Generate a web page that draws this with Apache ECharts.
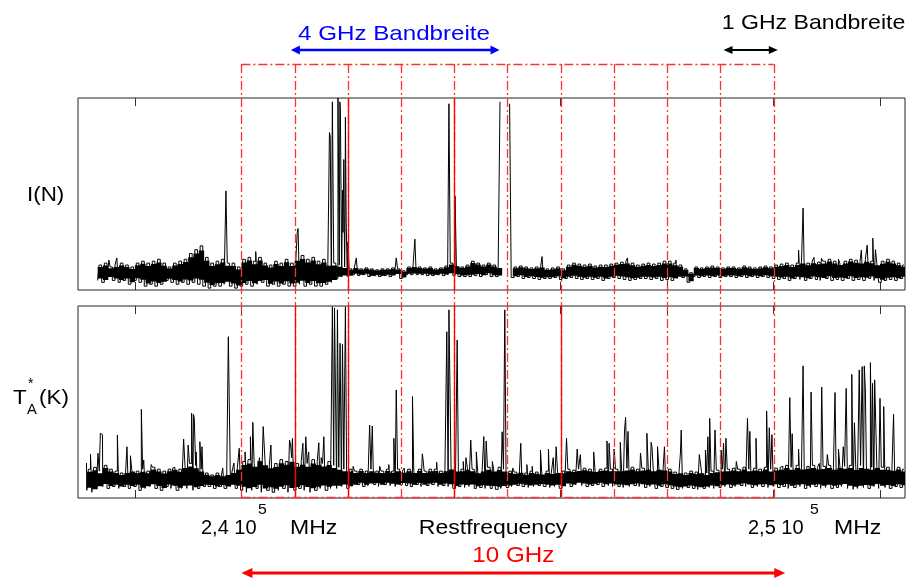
<!DOCTYPE html>
<html>
<head>
<meta charset="utf-8">
<script src="https://cdn.jsdelivr.net/npm/echarts@6/dist/echarts.min.js"></script>
<style>
  html, body { margin: 0; padding: 0; background: #fff; }
  #chart { width: 910px; height: 578px; }
</style>
</head>
<body>
<div id="chart"></div>
<script>
// Frequency axis in GHz (rest frequency)
const X_MIN = 236.93, X_MAX = 252.47;
const binWidth = 0.1;                 // spectra are stored as noise envelopes per 0.1 GHz bin
const tickFreqs = [238, 240, 242, 244, 246, 248, 250, 252];
const channelEdges = [240, 241, 242, 243, 244, 245, 246, 247, 248, 249, 250];
const solidEdgesUpper = [242, 244];
const solidEdgesLower = [241, 242, 244, 246];
const wideBand = [240.93, 244.85];    // 4 GHz Bandbreite
const narrowBand = [249.06, 250.08];  // 1 GHz Bandbreite
const totalSpan = [240.0, 250.22];    // 10 GHz

// Upper panel: I(N)
const intensityStart = 237.3;
const intensityHi = [13,14,12,13,14,13,12,14,15,14,15,16,14, 12,
  14,15,16,19,21,23,17,14,15,16,14,14,12,
  16,17,15,17,14,13,15,14,16,14,17,
  18,16,17,15,16,14,14,13,
  12,11,12,11,11.5,11,10.5,11,11,11.5,11,10,
  12,12.5,12,11.5,12,11,11.5,12.5,14,13,12,13,15,14,13,14,13,12,
  null,null,
  12,12.5,12,11.5,12,12.5,11,11.5,12,11,
  13,14,13.5,13,13.5,12.5,13,13,13.5,14,14.5,15,14,13,13.5,14,13.5,14,15,15,14,13,11,
  9,
  12,11.5,12,12.5,12,11.5,12,12,11.5,12.5,12,11.5,12,12.5,12,
  13,13.5,14,13,14,15,14,15,14.5,15,16,15,14,15,16,15.5,15,16,15,14,15,16,15,14,13];
const intensityLo = [5,4,6,5,4,5,3,5,4,2,3,2,3, 5,
  4,3,4,3,4,3,2,1,2,2,3,2,1,
  2,3,2,3,4,2,3,2,3,2,2,
  3,2,3,2,2,3,4,6,
  7,7,8,7.5,8,7,7.5,7,7.5,7,8,6,
  8,8,8,8,7.5,7.5,8,7.5,8,7.5,7,7,7,7.5,7,8,7,7,
  null,null,
  6.5,7,6,6.5,6,5.5,6,6,6.5,5.5,
  6,6.5,6,5.5,6,5.5,6,5,6,6.5,6,5.5,5,5.5,6,6,5.5,6,5,5.5,5,6,6.5,
  4,
  7,6.5,7,6.5,7,6.5,7,7,6.5,7,6.5,7,6.5,7,6.5,
  6,5.5,6,5,6,5.5,5,6,5.5,5,6,5,5.5,5,6,5,5.5,5,6,5,4,5,5.5,5,6];
const intensityLines = [
  [237.52, 15.6], [237.67, 16.7], [239.72, 51.6], [240.29, 20], [241.05, 30], [241.08, 32],
  [241.66, 82], [241.68, 80], [241.72, 98], [241.83, 100], [241.85, 98], [241.87, 95],
  [241.90, 52], [241.92, 30], [241.93, 68], [241.95, 40], [241.96, 90], [241.98, 35],
  [242.00, 25], [242.17, 16.7], [242.92, 16.7], [243.27, 26.5], [243.90, 97], [244.03, 49],
  [244.87, 98], [245.04, 97], [245.65, 17.4], [247.26, 16.7], [248.18, 15.6],
  [250.49, 20.8], [250.56, 42.7], [250.77, 17], [250.90, 16.5], [251.24, 16],
  [251.65, 20.8], [251.77, 23.4], [251.88, 27], [251.93, 21]
];

// Lower panel: T_A*(K)
const tempStart = 237.1;
const tempHi = [15,16,14,17,15,14,13,14,15,14,
  15,14,16,15,14,15,16,15,17,18,
  17,15,13,12,13,12,13,14,16,
  19,20,18,21,19,17,18,20,19,21,18,
  19,18,20,19,18,19,17,
  16,15,15,
  14,15,14,15,14,14,15,14,15,14,
  15,14,15,14,15,15,14,15,16,15,
  15,16,15,14,15,16,
  15,16,15,14,
  13.5,14,13,14,13.5,13,14,13.5,14,14,
  15,14.5,15,15.5,15,14.5,15,15.5,15,15,
  15,15.5,16,15,15.5,16,15,16,15.5,15,
  13.5,14,13,14,13.5,14,13,14,14.5,15,
  15,15.5,15,16,15,15.5,15,16,15,15.5,
  16,17,16,17,16,16.5,17,16,16.5,17,
  16,17,16.5,17,16,17,16.5,16,17,16,
  16,15.5,16,15];
const tempLo = [4,3,5,6,5,6,5,6,5,6,
  4,5,6,5,4,6,5,4,5,5,
  4,5,6,6,5,6,5,6,5,
  4,3,4,5,3,4,3,4,5,3,4,
  5,4,3,4,5,4,5,
  5,6,5,
  6,7,6,6.5,7,6,7,6.5,6,7,
  6.5,6,7,6,6.5,7,6,6.5,6,5,
  6,5.5,6,5,5.5,5,
  5,4.5,5,5.5,
  6,6.5,6,5.5,6,6.5,6,5.5,6,5,
  6.5,6,7,6.5,6,6.5,7,6,6.5,6,
  6,5.5,6,6.5,6,5.5,6,5,6,5.5,
  5,4.5,5,5.5,5,4.5,5,5.5,5,5.5,
  6,5.5,6,6.5,6,5.5,6,6,5.5,6,
  5.5,6,5,5.5,6,5,5.5,6,5,5.5,
  5,5.5,6,5,4.5,5,5.5,5,6,5,
  5.5,5,6,5.5];
const tempLines = [
  [237.09, 18.2], [237.18, 22.8], [237.31, 23.3], [237.35, 33.7], [237.39, 33], [237.69, 32.8],
  [237.85, 26.7], [237.93, 22], [238.14, 46.2], [238.18, 19.8], [238.31, 17.4], [238.72, 15.6],
  [238.90, 20.6], [238.93, 30.7], [239.00, 27.6], [239.08, 44.1], [239.10, 43.5], [239.13, 41.5],
  [239.15, 24], [239.24, 29.3], [239.27, 26.7], [239.65, 15.6], [239.76, 84], [239.79, 83.2],
  [239.87, 18.2], [239.97, 25.9], [240.09, 24], [240.19, 31.9], [240.23, 39.4], [240.33, 15.6],
  [240.42, 37.2], [240.44, 36.8], [240.56, 27.6], [240.69, 18], [240.91, 30.2], [240.94, 27.6],
  [240.97, 31], [241.16, 28.5], [241.22, 31.9], [241.28, 24], [241.46, 28.8], [241.50, 21],
  [241.55, 31.9], [241.72, 99.6], [241.75, 99], [241.78, 98], [241.81, 98], [241.86, 80.6],
  [241.90, 80], [241.96, 99.6], [242.10, 16.5], [242.42, 38], [242.47, 37.5], [242.60, 16.5],
  [242.79, 17.4], [242.88, 31.1], [242.92, 56.3], [243.07, 15.6], [243.23, 52.8], [243.40, 23],
  [243.42, 21], [243.69, 18.6], [243.87, 86.6], [243.90, 98], [243.93, 98], [244.06, 82.3],
  [244.19, 19], [244.24, 21], [244.32, 30.2], [244.43, 24], [244.56, 32], [244.60, 29.7],
  [244.73, 19], [244.90, 34.5], [244.95, 98], [245.10, 15.6], [245.25, 28.5], [245.38, 17.4],
  [245.48, 16.5], [245.64, 25], [245.79, 25.5], [245.87, 21], [245.93, 26.7], [246.12, 31.1],
  [246.32, 25.5], [246.39, 22.6], [246.64, 24], [246.89, 29.7], [246.92, 28.5], [247.01, 25.5],
  [247.14, 29], [247.20, 35.4], [247.24, 42], [247.28, 34.7], [247.50, 23.4], [247.64, 33.7],
  [247.70, 29], [247.73, 26.7], [247.84, 26.7], [247.95, 26.7], [248.25, 23.4], [248.28, 35.4],
  [248.61, 22.6], [248.64, 22], [248.74, 25], [248.78, 31.9], [248.80, 41.5], [248.90, 35.4],
  [249.03, 25], [249.07, 28.5], [249.11, 31.1], [249.30, 19], [249.52, 41.5], [249.56, 34.7],
  [249.69, 31.1], [249.89, 45.3], [249.94, 36.6], [249.99, 33], [250.15, 16.5], [250.31, 52.3],
  [250.35, 33.5], [250.49, 25.5], [250.56, 68.8], [250.68, 17.4], [250.71, 55.2], [250.87, 18],
  [250.91, 57.8], [251.02, 22.6], [251.16, 54.9], [251.24, 25.5], [251.32, 26.7], [251.38, 57.1],
  [251.49, 64.4], [251.54, 39.2], [251.62, 66.7], [251.68, 68.4], [251.71, 68.8], [251.74, 56.3],
  [251.84, 70.5], [251.87, 59.7], [251.90, 61.5], [251.93, 60.6], [252.00, 51.9], [252.09, 47.6],
  [252.26, 43.6]
];

const FONT = '"Liberation Sans", Arial, sans-serif';

// Spectrum trace split into contiguous pieces at empty bins. Each bin contributes
// its lower envelope, then its upper one half a bin later; line peaks are merged in
// by frequency (a peak inside an empty bin joins the following piece).
function spectrumPieces(start, lo, hi, lines) {
  const pieces = [];
  let cur = null;
  lo.forEach((l, i) => {
    const f = +(start + i * binWidth).toFixed(3);
    if (l == null) { cur = null; return; }
    if (!cur) { cur = { from: i, to: i, pts: [] }; pieces.push(cur); }
    cur.to = i;
    cur.pts.push([f, l]);
    cur.pts.push([+(f + binWidth / 2).toFixed(3), hi[i]]);
  });
  lines.forEach(p => {
    const b = Math.floor((p[0] - start) / binWidth + 1e-6);
    const piece = pieces.find(pc => b <= pc.to) || pieces[pieces.length - 1];
    piece.pts.push([p[0], p[1]]);
  });
  return pieces.map(pc => pc.pts.sort((a, b) => a[0] - b[0]));
}

// Dark body of the noise band, drawn as a histogram of the per-bin envelope
const CORE_TRIM = 0.12;
function ribbonSeries(start, lo, hi, xIdx, yIdx) {
  return {
    type: 'custom', xAxisIndex: xIdx, yAxisIndex: yIdx, clip: true, silent: true, z: 2,
    data: [[start, 0]],
    renderItem(params, api) {
      const children = [];
      let seg = [];
      const flush = () => {
        if (seg.length) {
          const top = [], bot = [];
          seg.forEach(s => {
            const t = s[2] - (s[2] - s[1]) * CORE_TRIM, b = s[1] + (s[2] - s[1]) * CORE_TRIM;
            top.push(api.coord([s[0], t]), api.coord([s[0] + binWidth, t]));
            bot.push(api.coord([s[0], b]), api.coord([s[0] + binWidth, b]));
          });
          children.push({ type: 'polygon', shape: { points: top.concat(bot.reverse()) }, style: { fill: '#000' } });
        }
        seg = [];
      };
      lo.forEach((l, i) => {
        if (l == null) flush();
        else seg.push([start + i * binWidth, l, hi[i]]);
      });
      flush();
      return { type: 'group', children };
    }
  };
}

function traceSeries(points, xIdx, yIdx) {
  return {
    type: 'line', xAxisIndex: xIdx, yAxisIndex: yIdx, data: points, step: 'middle',
    showSymbol: false, symbol: 'none', silent: true, animation: false, z: 3, clip: true,
    lineStyle: { color: '#000', width: 1 }
  };
}

function freqAxis(gridIndex, position) {
  return {
    type: 'value', gridIndex, position, min: X_MIN, max: X_MAX,
    axisLine: { show: false },
    axisLabel: { show: false },
    splitLine: { show: false },
    axisTick: { show: true, inside: true, length: 8, customValues: tickFreqs,
                lineStyle: { color: '#333', width: 1 } }
  };
}

function hiddenY(gridIndex) {
  return { type: 'value', gridIndex, min: 0, max: 100, show: false, splitLine: { show: false } };
}

const series = [ribbonSeries(intensityStart, intensityLo, intensityHi, 0, 0)];
spectrumPieces(intensityStart, intensityLo, intensityHi, intensityLines)
  .forEach(pc => series.push(traceSeries(pc, 0, 0)));
series.push(ribbonSeries(tempStart, tempLo, tempHi, 2, 1));
spectrumPieces(tempStart, tempLo, tempHi, tempLines)
  .forEach(pc => series.push(traceSeries(pc, 2, 1)));

const chart = echarts.init(document.getElementById('chart'));
chart.setOption({
  animation: false,
  backgroundColor: '#fff',
  grid: [
    { left: 78, top: 98, width: 827, height: 192, show: true, borderColor: '#222', borderWidth: 1 },
    { left: 78, top: 306, width: 827, height: 192, show: true, borderColor: '#222', borderWidth: 1 }
  ],
  xAxis: [freqAxis(0, 'bottom'), freqAxis(0, 'top'), freqAxis(1, 'bottom'), freqAxis(1, 'top')],
  yAxis: [hiddenY(0), hiddenY(1)],
  series
});

// ---- annotations ----
const xOf = f => chart.convertToPixel({ xAxisIndex: 0 }, f);
const FRAME_TOP = 64, FRAME_BOTTOM = 497;
const RED_DASH = '#ff3030';
const dash = [9, 3, 2, 3];

function text(str, x, y, o = {}) {
  return {
    type: 'text', x, y, scaleX: o.sx || 1.12, z: 100, silent: true,
    style: { text: str, font: `${o.size || 20}px ${FONT}`, fill: o.color || '#000',
             align: o.align || 'left', verticalAlign: 'middle' }
  };
}

function arrow(x1, x2, y, color, w, hl, hw) {
  return [
    { type: 'line', z: 100, shape: { x1: x1 + hl * 0.7, y1: y, x2: x2 - hl * 0.7, y2: y },
      style: { stroke: color, lineWidth: w } },
    { type: 'polygon', z: 100, shape: { points: [[x1, y], [x1 + hl, y - hw], [x1 + hl, y + hw]] },
      style: { fill: color } },
    { type: 'polygon', z: 100, shape: { points: [[x2, y], [x2 - hl, y - hw], [x2 - hl, y + hw]] },
      style: { fill: color } }
  ];
}

const g = [];
// channel frame
const xl = xOf(channelEdges[0]), xr = xOf(channelEdges[channelEdges.length - 1]);
[FRAME_TOP, FRAME_BOTTOM].forEach(y => g.push({
  type: 'line', z: 50, shape: { x1: xl, y1: y + 0.5, x2: xr, y2: y + 0.5 },
  style: { stroke: RED_DASH, lineWidth: 1.3, lineDash: dash }
}));
channelEdges.forEach(f => {
  const x = Math.round(xOf(f)) + 0.5;
  g.push({ type: 'line', z: 50, shape: { x1: x, y1: FRAME_TOP, x2: x, y2: FRAME_BOTTOM },
           style: { stroke: RED_DASH, lineWidth: 1.3, lineDash: dash } });
});
solidEdgesUpper.forEach(f => {
  const x = Math.round(xOf(f)) + 0.5;
  g.push({ type: 'line', z: 51, shape: { x1: x, y1: 98, x2: x, y2: 290 },
           style: { stroke: '#ff0000', lineWidth: 1.3 } });
});
solidEdgesLower.forEach(f => {
  const x = Math.round(xOf(f)) + 0.5;
  g.push({ type: 'line', z: 51, shape: { x1: x, y1: 306, x2: x, y2: FRAME_BOTTOM },
           style: { stroke: '#ff0000', lineWidth: 1.3 } });
});

// bandwidth arrows
g.push(...arrow(xOf(wideBand[0]), xOf(wideBand[1]), 50, '#0000ff', 2.5, 9, 4.5));
g.push(...arrow(xOf(narrowBand[0]), xOf(narrowBand[1]), 50, '#000', 2, 9, 4));
g.push(...arrow(xOf(totalSpan[0]), xOf(totalSpan[1]), 573, '#ff0000', 3, 11, 5));

// texts
g.push(text('4 GHz Bandbreite', 394, 34, { color: '#0000ff', align: 'center', size: 21, sx: 1.15 }));
g.push(text('1 GHz Bandbreite', 813.5, 23, { align: 'center', size: 21, sx: 1.1 }));
g.push(text('I(N)', 27, 195));
g.push(text('T', 13, 398));
g.push(text('*', 28, 384, { size: 14, sx: 1 }));
g.push(text('A', 27, 410, { size: 14, sx: 1.05 }));
g.push(text('(K)', 39, 398));
g.push(text('2,4 10', 201, 528, { sx: 1.0 }));
g.push(text('5', 258, 510, { size: 15, sx: 1.05 }));
g.push(text('MHz', 290, 528, { sx: 1.15 }));
g.push(text('Restfrequency', 493, 528, { align: 'center', sx: 1.15 }));
g.push(text('2,5 10', 748, 528, { sx: 1.0 }));
g.push(text('5', 810, 510, { size: 15, sx: 1.05 }));
g.push(text('MHz', 834, 528, { sx: 1.15 }));
g.push(text('10 GHz', (xOf(totalSpan[0]) + xOf(totalSpan[1])) / 2, 556, { color: '#ff0000', size: 22, align: 'center', sx: 1.1 }));

chart.setOption({ graphic: { elements: g } });
</script>
</body>
</html>
